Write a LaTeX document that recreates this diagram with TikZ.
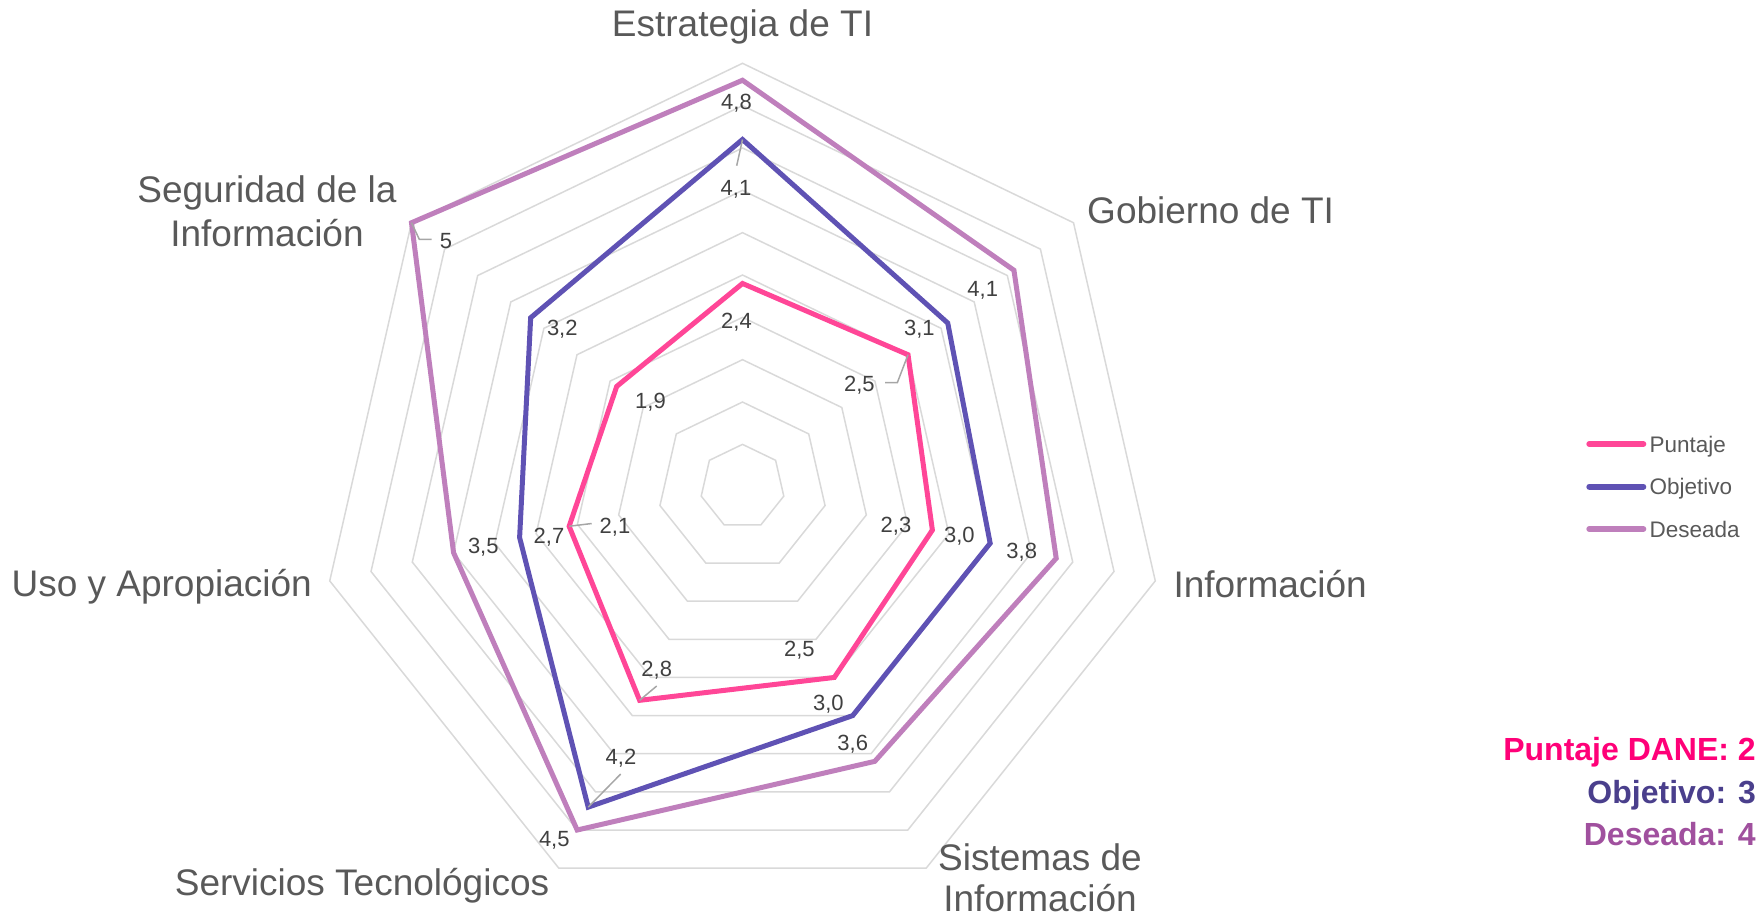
\documentclass[tikz,border=0pt]{standalone}
\usepackage{fontspec}
\setmainfont{Liberation Sans}
\definecolor{gridc}{HTML}{D9D9D9}
\definecolor{axisgray}{HTML}{595959}
\definecolor{dlgray}{HTML}{404040}
\definecolor{leadgray}{HTML}{A6A6A6}
\definecolor{cpunt}{HTML}{FF4697}
\definecolor{cobj}{HTML}{5F52B4}
\definecolor{cdes}{HTML}{BF7FBC}
\definecolor{tpunt}{HTML}{FF0078}
\definecolor{tobj}{HTML}{4A3F8C}
\definecolor{tdes}{HTML}{A0509E}
\begin{document}
\begin{tikzpicture}[x=1pt,y=-1pt,
  gridline/.style={draw=gridc,line width=1.5pt},
  series/.style={line width=5pt,line join=miter},
  legline/.style={line width=6pt,line cap=round},
  axlab/.style={text=axisgray,font=\fontsize{37}{43}\selectfont,inner sep=0pt},
  dl/.style={text=dlgray,font=\fontsize{22}{26}\selectfont,inner sep=0pt,anchor=base},
  leader/.style={draw=leadgray,line width=1.5pt},
  legtext/.style={text=axisgray,font=\fontsize{22.5}{27}\selectfont,inner sep=0pt,anchor=base west},
  score/.style={font=\bfseries\fontsize{32}{38}\selectfont,inner sep=0pt,anchor=base east}]
\useasboundingbox (0,0) rectangle (1758,919);
\def\cx{742.5}\def\cy{486.7}\def\u{84.68}
% grid rings
\foreach \k in {1,...,10}{
  \pgfmathsetmacro\r{\k*42.34}
  \draw[gridline] ({\cx},{\cy-\r}) \foreach \i in {1,...,6}{ -- ({\cx+\r*sin(\i*360/7)},{\cy-\r*cos(\i*360/7)}) } -- cycle;
}
% data points
\foreach \v [count=\i from 0] in {2.4,2.5,2.3,2.5,2.8,2.1,1.9}
  \coordinate (P\i) at ({\cx+\v*\u*sin(\i*360/7)},{\cy-\v*\u*cos(\i*360/7)});
\foreach \v [count=\i from 0] in {4.1,3.1,3.0,3.0,4.2,2.7,3.2}
  \coordinate (O\i) at ({\cx+\v*\u*sin(\i*360/7)},{\cy-\v*\u*cos(\i*360/7)});
\foreach \v [count=\i from 0] in {4.8,4.1,3.8,3.6,4.5,3.5,5}
  \coordinate (D\i) at ({\cx+\v*\u*sin(\i*360/7)},{\cy-\v*\u*cos(\i*360/7)});
\draw[series,cpunt] (P0)--(P1)--(P2)--(P3)--(P4)--(P5)--(P6)--cycle;
\draw[series,cobj] (O0)--(O1)--(O2)--(O3)--(O4)--(O5)--(O6)--cycle;
\draw[series,cdes] (D0)--(D1)--(D2)--(D3)--(D4)--(D5)--(D6)--cycle;
% axis labels
\node[axlab,anchor=base] (aE) at (742.5,36) {Estrategia de TI};
\node[axlab,anchor=base west] (aG) at (1087,223.3) {Gobierno de TI};
\node[axlab,anchor=base west] (aI) at (1173.3,597) {Información};
\node[axlab,anchor=base] (aS1) at (1040,870) {Sistemas de};
\node[axlab,anchor=base] (aS2) at (1040,911.5) {Información};
\node[axlab,anchor=base] (aT) at (362,895) {Servicios Tecnológicos};
\node[axlab,anchor=base] (aU) at (161.7,596.7) {Uso y Apropiación};
\node[axlab,anchor=base] (aR1) at (267,202.7) {Seguridad de la};
\node[axlab,anchor=base] (aR2) at (267,246) {Información};
% data labels
\node[dl] (dE1) at (736.5,109.3) {4,8};
\node[dl] (dE2) at (736,195) {4,1};
\node[dl] (dE3) at (736.5,328) {2,4};
\node[dl] (dG1) at (982.7,296) {4,1};
\node[dl] (dG2) at (919.3,335) {3,1};
\node[dl] (dG3) at (859.3,391.7) {2,5};
\node[dl] (dI1) at (896,532.7) {2,3};
\node[dl] (dI2) at (959.3,542.7) {3,0};
\node[dl] (dI3) at (1021.7,558) {3,8};
\node[dl] (dS1) at (799.3,656) {2,5};
\node[dl] (dS2) at (828.3,710) {3,0};
\node[dl] (dS3) at (852.7,750) {3,6};
\node[dl] (dT1) at (656.7,676.7) {2,8};
\node[dl] (dT2) at (621,764.3) {4,2};
\node[dl] (dT3) at (554.3,846) {4,5};
\node[dl] (dU1) at (615,533.3) {2,1};
\node[dl] (dU2) at (549,543.3) {2,7};
\node[dl] (dU3) at (483.3,553.3) {3,5};
\node[dl] (dR1) at (446,248.3) {5};
\node[dl] (dR2) at (562.3,335.7) {3,2};
\node[dl] (dR3) at (650.5,408.3) {1,9};
% leader lines
\coordinate (lE2) at (736.7,165.7);
\draw[leader] (O0) -- (lE2);
\coordinate (lR1a) at (419.3,239.3);
\coordinate (lR1b) at (431.7,239.3);
\draw[leader] (D6) -- (lR1a) -- (lR1b);
\coordinate (lG3a) at (897.3,382.7);
\coordinate (lG3b) at (885,382.7);
\draw[leader] (P1) -- (lG3a) -- (lG3b);
\coordinate (lT1) at (656.7,686);
\draw[leader] (P4) -- (lT1);
\coordinate (lT2) at (620.7,774);
\draw[leader] (O4) -- (lT2);
\coordinate (lU1) at (591.7,523.5);
\draw[leader] (P5) -- (lU1);
% legend
\coordinate (g1a) at (1589.3,444); \coordinate (g1b) at (1643.3,444);
\coordinate (g2a) at (1589.3,486.7); \coordinate (g2b) at (1643.3,486.7);
\coordinate (g3a) at (1589.3,529); \coordinate (g3b) at (1643.3,529);
\draw[legline,cpunt] (g1a) -- (g1b);
\draw[legline,cobj] (g2a) -- (g2b);
\draw[legline,cdes] (g3a) -- (g3b);
\node[legtext] (t1) at (1649.3,452) {Puntaje};
\node[legtext] (t2) at (1649.3,494.5) {Objetivo};
\node[legtext] (t3) at (1649.3,537) {Deseada};
% scores
\node[score,text=tpunt] (s1) at (1756,760) {Puntaje DANE: 2};
\node[score,text=tobj] (s2) at (1756,803.3) {Objetivo: 3};
\node[score,text=tdes] (s3) at (1756,845) {Deseada: 4};
\end{tikzpicture}
\end{document}
